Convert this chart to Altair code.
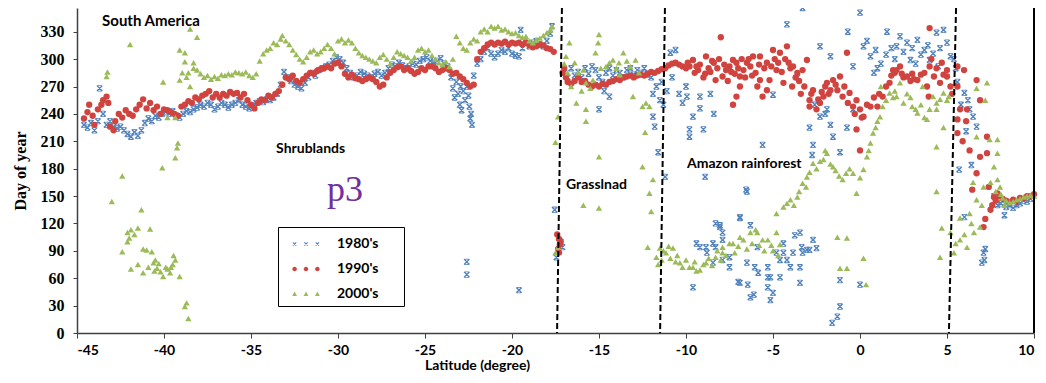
import altair as alt
import pandas as pd

# ---------------- data ----------------
decades = ["1980's", "1990's", "2000's"]
colors = ["#4F81BD", "#D0433E", "#9BBB59"]

pts_1980_band = [
    (-44.6, 228), (-44.4, 225), (-44.2, 230), (-44.0, 222), (-43.8, 232), (-43.7, 268), (-43.5, 240),
    (-43.3, 228), (-43.1, 232), (-42.9, 226), (-42.7, 224), (-42.5, 226), (-42.3, 222), (-42.1, 218),
    (-41.9, 215), (-41.7, 220), (-41.5, 216), (-41.3, 222), (-41.1, 230), (-40.9, 235), (-40.7, 232),
    (-40.5, 238), (-40.3, 236), (-40.1, 240), (-39.9, 242), (-39.7, 240), (-39.5, 243), (-39.3, 238),
    (-39.1, 236), (-38.9, 240), (-38.7, 243), (-38.5, 242), (-38.3, 245), (-38.1, 247), (-37.9, 250),
    (-37.7, 248), (-37.5, 252), (-37.3, 250), (-37.1, 245), (-36.9, 248), (-36.7, 252), (-36.5, 250),
    (-36.3, 247), (-36.1, 250), (-35.9, 252), (-35.7, 255), (-35.5, 250), (-35.3, 248), (-35.1, 246),
    (-34.9, 249), (-34.7, 252), (-34.5, 254), (-34.3, 253), (-34.1, 256), (-33.9, 255), (-33.7, 258),
    (-33.5, 262), (-33.3, 272), (-33.1, 286), (-32.9, 280), (-32.7, 276), (-32.5, 272), (-32.3, 270),
    (-32.1, 268), (-31.9, 274), (-31.7, 280), (-31.5, 285), (-31.3, 282), (-31.1, 288), (-30.9, 290),
    (-30.7, 292), (-30.5, 294), (-30.3, 298), (-30.1, 302), (-29.9, 300), (-29.7, 296), (-29.5, 290),
    (-29.3, 285), (-29.1, 280), (-28.9, 282), (-28.7, 286), (-28.5, 284), (-28.3, 282), (-28.1, 280),
    (-27.9, 284), (-27.7, 286), (-27.5, 282), (-27.3, 285), (-27.1, 290), (-26.9, 294), (-26.7, 292),
    (-26.5, 296), (-26.3, 293), (-26.1, 290), (-25.9, 292), (-25.7, 295), (-25.5, 294), (-25.3, 298),
    (-25.1, 300), (-24.9, 302), (-24.7, 298), (-24.5, 296), (-24.3, 298), (-24.1, 301), (-23.9, 295),
    (-23.7, 292), (-23.5, 280), (-23.4, 268), (-23.3, 258), (-23.2, 275), (-23.1, 262), (-23.0, 250),
    (-22.95, 270), (-22.9, 244), (-22.8, 265), (-22.7, 255), (-22.6, 270), (-22.5, 260), (-22.45, 248),
    (-22.4, 235), (-22.3, 228), (-22.35, 240), (-22.2, 282), (-22.0, 295), (-21.8, 300), (-21.6, 308),
    (-21.4, 312), (-21.2, 306), (-21.0, 302), (-20.8, 306), (-20.6, 310), (-20.4, 308), (-20.2, 312),
    (-20.0, 306), (-19.8, 304), (-19.6, 303), (-19.5, 332), (-19.4, 312), (-19.2, 318), (-19.0, 314),
    (-18.8, 318), (-18.6, 320), (-18.4, 316), (-18.2, 314), (-18.0, 320), (-17.8, 328), (-17.7, 336),
]
pts_1980_grass = [
    (-17.55, 135), (-17.1, 94), (-17.45, 83), (-17.2, 100), (-22.6, 78), (-22.6, 64), (-19.6, 47),
    (-17.0, 285), (-16.8, 280), (-16.6, 290), (-16.4, 282), (-16.2, 286), (-16.0, 280), (-15.8, 290),
    (-15.6, 284), (-15.4, 292), (-15.2, 288), (-15.0, 280), (-14.8, 275), (-14.6, 285), (-14.4, 290),
    (-14.2, 282), (-14.0, 288), (-13.8, 285), (-13.6, 280), (-13.4, 288), (-13.2, 290), (-13.0, 283),
    (-12.8, 288), (-12.6, 285), (-12.4, 290), (-12.2, 283), (-12.0, 280), (-15.0, 245), (-14.4, 259),
    (-14.7, 265),
]
pts_1980_forest = [
    (-11.9, 262), (-11.7, 270), (-11.5, 255), (-11.9, 237), (-11.8, 226), (-11.6, 198), (-11.2, 171),
    (-11.3, 250), (-11.1, 265), (-10.9, 307), (-10.6, 310), (-10.4, 262), (-10.2, 252), (-9.95, 259),
    (-9.8, 223), (-9.8, 215), (-9.6, 237), (-9.2, 259), (-9.2, 246), (-9.0, 223), (-8.9, 171),
    (-8.6, 262), (-8.4, 240), (-11.4, 275), (-10.8, 280), (-10.0, 270), (-6.9, 127), (-6.5, 155),
    (-6.55, 157), (-5.6, 206), (-5.0, 261), (-4.2, 338), (-3.3, 356), (-2.3, 314), (-1.7, 303),
    (-0.7, 330), (0.0, 351), (-0.4, 292), (-1.9, 245), (-2.3, 237), (-1.7, 228), (-2.9, 225),
    (-1.55, 215), (-2.7, 206), (-1.15, 198), (-2.75, 195), (-0.75, 225), (-0.4, 245), (-3.6, 280),
    (-2.6, 250), (-2.0, 240),
    (0.2, 314), (0.6, 303), (0.4, 320), (0.9, 310), (1.2, 295), (1.55, 330), (1.5, 305), (1.8, 312),
    (2.1, 314), (2.3, 325), (2.5, 308), (2.7, 318), (2.9, 299), (3.0, 312), (3.3, 321), (3.5, 305),
    (3.7, 310), (3.9, 315), (4.0, 299), (4.2, 306), (4.4, 329), (4.6, 312), (4.8, 332), (5.0, 318),
    (5.2, 303), (4.5, 292), (3.2, 295), (1.0, 290), (0.8, 285), (2.0, 300),
]
pts_1980_low = [
    (-9.6, 50), (-9.4, 98), (-8.85, 94), (-8.3, 94), (-7.9, 110), (-8.05, 116), (-7.5, 72), (-6.9, 55),
    (-6.3, 39), (-5.3, 61), (-5.0, 44), (-4.6, 80), (-4.0, 72), (-3.45, 55), (-3.3, 88), (-2.7, 102),
    (-2.9, 91), (-3.45, 110), (-4.4, 88), (-1.15, 58), (-1.15, 29), (-1.3, 18), (-1.6, 11), (0.0, 53),
    (-8.3, 120), (-9.2, 94), (-8.8, 88), (-8.45, 77), (-7.9, 80), (-7.0, 56), (-6.45, 53), (-6.1, 42),
    (-5.85, 66), (-5.3, 72), (-5.15, 61), (-4.6, 61), (-4.2, 80), (-3.85, 88), (-3.45, 72), (-3.35, 94),
    (-3.05, 91), (-2.5, 93), (-5.3, 50), (-5.15, 36), (-6.9, 126), (-6.3, 118), (-5.9, 94), (-4.8, 88),
    (-4.4, 98), (-3.75, 107), (-8.05, 118), (-7.9, 102), (-8.45, 98), (-7.5, 83), (-6.5, 77), (-6.05, 72),
]
pts_1980_north = [
    (5.5, 290), (5.6, 275), (6.0, 263), (6.3, 245), (6.5, 237), (6.7, 226), (6.1, 221), (5.7, 179),
    (6.4, 184), (6.0, 127), (7.1, 88), (7.0, 77), (7.15, 80), (7.2, 92), (5.8, 250), (6.2, 255),
    (5.4, 300), (8.3, 129), (7.9, 140), (8.1, 142), (8.4, 138), (8.6, 140), (8.8, 137), (9.0, 140),
    (9.2, 142), (9.4, 145), (9.6, 144), (9.8, 147), (7.7, 150),
]

pts_1990_band = [
    (-44.6, 235), (-44.4, 242), (-44.3, 250), (-44.1, 238), (-44.0, 228), (-43.8, 245), (-43.6, 250),
    (-43.5, 255), (-43.3, 259), (-43.2, 252), (-43.1, 226), (-42.9, 222), (-42.8, 232), (-42.6, 240),
    (-42.4, 236), (-42.2, 244), (-42.0, 240), (-41.8, 238), (-41.6, 245), (-41.4, 250), (-41.2, 256),
    (-41.0, 246), (-40.8, 252), (-40.6, 244), (-40.4, 248), (-40.2, 240), (-40.0, 245), (-39.8, 244),
    (-39.6, 242), (-39.4, 240), (-39.2, 238), (-39.0, 248), (-38.8, 250), (-38.6, 254), (-38.4, 252),
    (-38.2, 258), (-38.0, 256), (-37.8, 260), (-37.6, 262), (-37.4, 265), (-37.2, 258), (-37.0, 262),
    (-36.8, 258), (-36.6, 262), (-36.4, 260), (-36.2, 264), (-36.0, 262), (-35.8, 263), (-35.6, 258),
    (-35.4, 262), (-35.2, 255), (-35.0, 250), (-34.8, 246), (-34.6, 252), (-34.4, 256), (-34.2, 255),
    (-34.0, 260), (-33.8, 258), (-33.6, 262), (-33.4, 265), (-33.2, 272), (-33.0, 280), (-32.8, 278),
    (-32.6, 282), (-32.4, 276), (-32.2, 274), (-32.0, 278), (-31.8, 282), (-31.6, 285), (-31.4, 284),
    (-31.2, 287), (-31.0, 289), (-30.8, 290), (-30.6, 292), (-30.4, 290), (-30.2, 295), (-30.0, 296),
    (-29.8, 292), (-29.6, 284), (-29.4, 280), (-29.2, 283), (-29.0, 279), (-28.8, 278), (-28.6, 276),
    (-28.4, 278), (-28.2, 280), (-28.0, 278), (-27.8, 275), (-27.6, 270), (-27.4, 272), (-27.2, 280),
    (-27.0, 285), (-26.8, 288), (-26.6, 291), (-26.4, 292), (-26.2, 288), (-26.0, 290), (-25.8, 287),
    (-25.6, 284), (-25.4, 286), (-25.2, 290), (-25.0, 288), (-24.8, 292), (-24.6, 292), (-24.4, 290),
    (-24.2, 286), (-24.0, 288), (-23.8, 290), (-23.6, 288), (-23.4, 284), (-23.2, 285), (-23.0, 281),
    (-22.8, 278), (-22.6, 274), (-22.4, 270), (-22.2, 272), (-22.0, 300), (-21.8, 308), (-21.6, 312),
    (-21.4, 316), (-21.2, 318), (-21.0, 316), (-20.8, 318), (-20.6, 317), (-20.4, 319), (-20.2, 316),
    (-20.0, 318), (-19.8, 317), (-19.6, 318), (-19.4, 316), (-19.2, 318), (-19.0, 315), (-18.8, 313),
    (-18.6, 314), (-18.4, 316), (-18.2, 315), (-18.0, 312), (-17.8, 311), (-17.6, 308),
]
pts_1990_grass = [
    (-17.4, 108), (-17.3, 103), (-17.25, 97), (-17.35, 92), (-17.3, 88), (-17.2, 100),
    (-17.1, 285), (-17.0, 290), (-16.9, 280), (-16.8, 275), (-16.6, 273), (-16.4, 276), (-16.2, 280),
    (-16.0, 275), (-15.8, 276), (-15.6, 272), (-15.4, 270), (-15.2, 272), (-15.0, 270), (-14.8, 273),
    (-14.6, 272), (-14.4, 275), (-14.2, 276), (-14.0, 278), (-13.8, 277), (-13.6, 280), (-13.4, 281),
    (-13.2, 282), (-13.0, 280), (-12.8, 282), (-12.6, 283), (-12.4, 282), (-12.2, 284), (-12.0, 286),
    (-11.8, 285), (-11.6, 287), (-11.4, 289), (-11.2, 290), (-11.0, 293), (-10.8, 295), (-10.6, 296),
    (-10.4, 294), (-10.2, 292),
]
pts_1990_forest = [
    (-10.0, 290), (-9.8, 292), (-9.6, 299), (-9.5, 285), (-9.3, 288), (-9.2, 294), (-9.0, 280),
    (-8.85, 303), (-8.7, 290), (-8.6, 286), (-8.4, 296), (-8.3, 277), (-8.1, 300), (-8.0, 324),
    (-7.9, 281), (-7.7, 288), (-7.5, 292), (-7.3, 299), (-7.2, 284), (-7.1, 296), (-7.0, 290),
    (-6.9, 281), (-6.8, 300), (-6.7, 288), (-6.9, 270), (-7.1, 259), (-7.3, 250), (-6.5, 296),
    (-6.3, 292), (-6.15, 303), (-6.0, 285), (-5.9, 270), (-5.75, 277), (-5.75, 303), (-5.6, 259),
    (-5.5, 290), (-5.35, 296), (-5.35, 266), (-5.2, 277), (-5.0, 310), (-4.9, 300), (-4.8, 288),
    (-4.6, 307), (-4.4, 274), (-4.3, 300), (-4.2, 314), (-4.0, 290), (-3.85, 292), (-3.7, 280),
    (-3.6, 285), (-3.5, 276), (-3.3, 288), (-3.2, 270), (-3.05, 299), (-2.9, 255), (-2.9, 248),
    (-2.8, 262), (-2.7, 266), (-2.5, 245), (-2.4, 256), (-2.3, 252), (-2.2, 264), (-2.1, 259),
    (-2.0, 270), (-1.9, 274), (-1.8, 262), (-1.7, 266), (-1.55, 277), (-1.4, 272), (-1.3, 266),
    (-1.15, 281), (-1.0, 259), (-0.9, 270), (-0.75, 307), (-0.7, 252), (-0.6, 263), (-0.4, 248),
    (-0.3, 240), (-0.2, 255), (-0.2, 223), (0.0, 245), (0.0, 200), (0.1, 236), (0.2, 237), (0.4, 250),
    (0.6, 248), (0.8, 258), (1.0, 248), (1.1, 262), (1.3, 259), (1.5, 270), (1.7, 274), (1.8, 282),
    (1.9, 288), (2.0, 285), (2.1, 288), (2.3, 292), (2.4, 284), (2.5, 280), (2.7, 281), (2.9, 276),
    (3.0, 284), (3.1, 278), (3.3, 277), (3.5, 283), (3.7, 285), (3.85, 270), (3.95, 259), (4.0, 292),
    (4.0, 334), (4.1, 300), (4.25, 281), (4.4, 290), (4.6, 274), (4.7, 296), (4.8, 283), (5.0, 281),
    (5.0, 288), (5.2, 270), (5.3, 262),
    (-9.9, 296), (-9.4, 292), (-8.9, 284), (-8.5, 298), (-8.2, 290), (-7.8, 294), (-7.6, 276),
    (-7.4, 286), (-6.6, 280), (-6.4, 300), (-6.2, 282), (-5.8, 294), (-5.1, 292), (-4.7, 296),
    (-4.5, 286), (-4.1, 296), (-3.9, 270), (-3.4, 262),
]
pts_1990_north = [
    (5.6, 292), (5.6, 270), (5.75, 245), (5.6, 234), (5.98, 288), (6.15, 245), (6.3, 200), (5.6, 219),
    (6.7, 277), (6.9, 255), (6.7, 175), (7.3, 197), (6.45, 157), (7.1, 116), (7.5, 135), (7.7, 149),
    (7.9, 153), (7.4, 160), (7.6, 140), (7.2, 125), (7.8, 145), (8.0, 150), (8.2, 147), (8.4, 145),
    (8.6, 143), (8.8, 146), (9.0, 144), (9.2, 148), (9.4, 147), (9.6, 150), (9.8, 150), (10.0, 152),
    (6.1, 232), (5.9, 210), (6.9, 193), (7.3, 215),
]

pts_2000_south = [
    (-43.3, 281), (-43.25, 286), (-41.95, 316), (-43.0, 144), (-42.4, 172), (-41.3, 135), (-42.1, 110),
    (-41.9, 113), (-41.5, 115), (-40.8, 114), (-42.4, 89), (-42.1, 100), (-41.9, 70), (-41.5, 75),
    (-41.2, 92), (-41.0, 91), (-40.7, 89), (-41.2, 66), (-40.6, 77), (-40.4, 71), (-40.2, 67),
    (-40.05, 62), (-39.8, 70), (-39.65, 66), (-39.5, 75), (-39.35, 80), (-39.1, 62), (-38.7, 33),
    (-38.6, 16), (-38.8, 29), (-40.1, 181), (-40.05, 275), (-39.25, 203), (-39.2, 208), (-39.35, 192),
    (-39.8, 236), (-39.35, 236), (-39.1, 310), (-38.8, 307), (-38.8, 297), (-38.5, 333), (-38.1, 324),
    (-38.3, 296), (-38.95, 285), (-39.1, 277), (-38.5, 270), (-38.6, 285), (-38.7, 280), (-40.5, 80),
    (-40.3, 76), (-39.9, 72), (-40.9, 72), (-41.7, 108), (-42.0, 104), (-39.6, 72), (-39.45, 85),
    (-40.55, 68),
]
pts_2000_band = [
    (-38.3, 290), (-38.1, 288), (-37.9, 284), (-37.7, 280), (-37.5, 282), (-37.3, 278), (-37.1, 281),
    (-36.9, 279), (-36.7, 283), (-36.5, 282), (-36.3, 284), (-36.1, 283), (-35.9, 286), (-35.7, 285),
    (-35.5, 284), (-35.3, 286), (-35.1, 282), (-34.9, 280), (-34.7, 284), (-34.5, 298), (-34.3, 306),
    (-34.1, 310), (-33.9, 312), (-33.7, 318), (-33.5, 316), (-33.3, 322), (-33.2, 326), (-33.0, 320),
    (-32.8, 316), (-32.6, 310), (-32.4, 305), (-32.2, 300), (-32.0, 297), (-31.8, 302), (-31.6, 308),
    (-31.4, 310), (-31.2, 306), (-31.0, 308), (-30.8, 312), (-30.6, 316), (-30.4, 312), (-30.2, 306),
    (-30.0, 320), (-29.8, 322), (-29.6, 318), (-29.4, 321), (-29.2, 318), (-29.0, 312), (-28.8, 307),
    (-28.6, 304), (-28.4, 302), (-28.2, 300), (-28.0, 298), (-27.8, 296), (-27.6, 302), (-27.4, 305),
    (-27.2, 300), (-27.0, 295), (-26.8, 302), (-26.6, 308), (-26.4, 306), (-26.2, 304), (-26.0, 302),
    (-25.8, 298), (-25.6, 302), (-25.4, 310), (-25.2, 312), (-25.0, 308), (-24.8, 310), (-24.6, 304),
    (-24.4, 300), (-24.2, 296), (-24.0, 294), (-23.8, 297), (-23.6, 292), (-23.4, 300), (-23.2, 325),
    (-23.0, 318), (-22.8, 312), (-22.6, 310), (-22.4, 318), (-22.2, 322), (-22.0, 320), (-21.8, 330),
    (-21.6, 333), (-21.4, 330), (-21.2, 336), (-21.0, 334), (-20.8, 336), (-20.6, 332), (-20.4, 333),
    (-20.2, 330), (-20.0, 328), (-19.8, 329), (-19.6, 326), (-19.4, 324), (-19.2, 325), (-19.0, 320),
    (-18.8, 318), (-18.6, 321), (-18.4, 323), (-18.2, 326), (-18.0, 329), (-17.8, 332), (-17.7, 336),
]
pts_2000_grass = [
    (-17.35, 237), (-17.5, 209), (-17.5, 88), (-17.35, 94), (-16.9, 303), (-16.7, 318), (-16.4, 296),
    (-16.2, 285), (-15.9, 288), (-15.75, 274), (-16.3, 252), (-15.75, 245), (-15.75, 232), (-15.35, 277),
    (-15.2, 307), (-15.05, 318), (-15.0, 327), (-15.0, 193), (-15.9, 140), (-15.0, 137), (-14.6, 292),
    (-14.2, 299), (-13.85, 296), (-13.6, 307), (-14.9, 290), (-14.4, 296), (-14.0, 290), (-13.4, 298),
    (-13.2, 292), (-12.9, 299), (-16.6, 270), (-16.0, 265), (-15.5, 268), (-17.0, 295), (-16.8, 285),
    (-13.05, 259), (-12.5, 248), (-12.1, 248), (-12.35, 220), (-12.5, 182), (-11.9, 168), (-12.1, 153),
    (-12.0, 133), (-12.2, 94), (-12.3, 252), (-12.7, 285), (-13.8, 283),
]
pts_2000_low = [
    (-11.7, 83), (-11.5, 93), (-11.6, 75), (-11.4, 80), (-11.3, 90), (-11.15, 88), (-11.0, 95),
    (-10.9, 82), (-10.75, 93), (-10.6, 78), (-10.5, 85), (-10.35, 77), (-10.2, 72), (-10.0, 80),
    (-9.8, 72), (-9.6, 72), (-9.5, 78), (-9.4, 68), (-9.2, 69), (-9.0, 75), (-8.85, 77), (-8.7, 82),
    (-8.5, 74), (-8.3, 83), (-8.2, 90), (-8.0, 80), (-7.9, 88), (-7.9, 94), (-7.7, 85), (-7.5, 98),
    (-7.3, 98), (-7.2, 88), (-7.0, 95), (-6.9, 105), (-6.7, 102), (-6.5, 92), (-6.3, 110), (-6.2, 98),
    (-6.0, 113), (-5.9, 110), (-5.8, 96), (-5.6, 102), (-5.5, 90), (-5.3, 102), (-5.1, 96), (-5.0, 90),
    (-4.8, 110), (-4.6, 97), (-4.7, 85),
]
pts_2000_rise = [
    (-4.8, 131), (-4.4, 138), (-4.2, 142), (-4.0, 146), (-3.8, 140), (-3.6, 149), (-3.5, 155),
    (-3.3, 164), (-3.1, 160), (-3.05, 171), (-2.9, 176), (-2.7, 186), (-2.5, 180), (-2.3, 188),
    (-2.1, 190), (-2.0, 200), (-1.9, 197), (-1.7, 185), (-1.55, 182), (-1.4, 178), (-1.2, 172),
    (-1.0, 168), (-0.8, 175), (-0.6, 180), (-0.4, 175), (-0.2, 153), (0.0, 170), (0.2, 179), (0.4, 193),
    (0.5, 200), (0.6, 208), (0.75, 219), (0.9, 225), (1.0, 232), (1.15, 237), (1.3, 248), (1.5, 255),
    (1.7, 263), (1.9, 258), (2.1, 259), (2.3, 274), (2.5, 252), (2.7, 262), (2.9, 258), (3.0, 248),
    (3.2, 245), (3.3, 241), (3.5, 250), (3.7, 236), (3.85, 234), (4.0, 245), (4.2, 259), (4.4, 252),
    (4.6, 256), (4.8, 263), (5.0, 255), (5.1, 259), (-1.3, 105), (-0.75, 104), (-1.15, 71),
    (-0.75, 71), (0.2, 82), (0.35, 53), (4.4, 204), (4.4, 155), (4.7, 115), (4.6, 83), (4.8, 225),
    (4.4, 245), (1.2, 270), (2.0, 265), (3.6, 270),
]
pts_2000_north = [
    (5.4, 88), (5.75, 102), (6.15, 94), (6.55, 110), (6.9, 116), (5.75, 126), (6.3, 131), (6.7, 146),
    (7.1, 160), (7.3, 274), (7.2, 255), (6.7, 215), (7.45, 212), (7.9, 212), (7.9, 197), (7.7, 182),
    (7.9, 168), (8.05, 160), (6.7, 268), (5.5, 98), (6.0, 108), (6.4, 120), (7.0, 140), (7.5, 165),
    (7.8, 155), (8.2, 148), (8.4, 145), (8.6, 143), (8.8, 144), (9.0, 146), (9.2, 147), (9.4, 149),
    (9.6, 150), (9.8, 151), (10.0, 150), (8.1, 152), (8.3, 140), (5.2, 110), (6.5, 165),
]

# biome boundaries (dashed, slightly slanted in the original) and the plot's right edge
boundary_top = [-17.13, -11.21, 5.52]
boundary_bottom = [-17.41, -11.49, 5.11]

annotations = ["Shrublands", "Grasslnad", "Amazon rainforest"]
annotation_lat = [-33.56, -16.9, -9.94]
annotation_doy = [202, 162, 185]

x_ticks = [-45, -40, -35, -30, -25, -20, -15, -10, -5, 0, 5, 10]
y_ticks = [0, 30, 60, 90, 120, 150, 180, 210, 240, 270, 300, 330]
X_DOMAIN = [-45, 10]
Y_DOMAIN = [0, 356]

# ---------------- build tables ----------------
def frame(pts, label):
    return pd.DataFrame({"lat": [p[0] for p in pts], "doy": [p[1] for p in pts], "decade": label})

df80 = pd.concat([frame(p, decades[0]) for p in
                  [pts_1980_band, pts_1980_grass, pts_1980_forest, pts_1980_low, pts_1980_north]])
df90 = pd.concat([frame(p, decades[1]) for p in
                  [pts_1990_band, pts_1990_grass, pts_1990_forest, pts_1990_north]])
df00 = pd.concat([frame(p, decades[2]) for p in
                  [pts_2000_south, pts_2000_band, pts_2000_grass, pts_2000_low, pts_2000_rise, pts_2000_north]])

bounds = pd.DataFrame({"lat": boundary_top, "lat_bot": boundary_bottom,
                       "doy": [Y_DOMAIN[1]] * 3, "doy_bot": [0] * 3})
edge = pd.DataFrame({"lat": [X_DOMAIN[1]], "doy": [Y_DOMAIN[1]], "doy_bot": [0]})
ann = pd.DataFrame({"lat": annotation_lat, "doy": annotation_doy, "text": annotations})
p3 = pd.DataFrame({"lat": [-30.63], "doy": [145], "text": ["p3"]})
region = pd.DataFrame({"lat": [-43.56], "doy": [342], "text": ["South America"]})

# ---------------- marker shapes ----------------
X_PATH = ("M-1,-0.7L-0.7,-1L1,0.7L0.7,1Z M-1,0.7L0.7,-1L1,-0.7L-0.7,1Z "
          "M-0.6,-1L0.6,-1L0.6,-0.75L-0.6,-0.75Z M-0.6,0.75L0.6,0.75L0.6,1L-0.6,1Z")


def triple(kind):
    parts = []
    for cx in (-0.95, 0.0, 0.95):
        if kind == "x":
            h, t = 0.17, 0.06
            parts.append(f"M{cx-h},{-h+t}L{cx-h+t},{-h}L{cx+h},{h-t}L{cx+h-t},{h}Z")
            parts.append(f"M{cx-h},{h-t}L{cx+h-t},{-h}L{cx+h},{-h+t}L{cx-h+t},{h}Z")
        elif kind == "o":
            a = 0.19
            parts.append(f"M{cx-a},0A{a},{a} 0 1,0 {cx+a},0A{a},{a} 0 1,0 {cx-a},0Z")
        else:
            a = 0.2
            parts.append(f"M{cx},{-a}L{cx+a},{a*0.8}L{cx-a},{a*0.8}Z")
    return "".join(parts)


sym_expr = (f"indexof(datum.value, '1980') >= 0 ? '{triple('x')}' : "
            f"indexof(datum.value, '1990') >= 0 ? '{triple('o')}' : '{triple('t')}'")

legend = alt.Legend(
    orient="none", legendX=201, legendY=219, title=None,
    strokeColor="black", fillColor="white", padding=5,
    symbolSize=576, symbolType={"expr": sym_expr}, symbolOffset=11,
    symbolStrokeWidth=0,
    labelFont="Lato", labelFontWeight="bold", labelFontSize=14, labelColor="black",
    labelOffset=19, rowPadding=6,
    labelExpr="datum.label + '\u2800\u2800'",
)

x_axis = alt.Axis(values=x_ticks, labelExpr="toString(datum.value)", grid=False,
                  labelOverlap=False,
                  domainColor="#404040", domainWidth=1.5, tickColor="#404040", tickSize=5,
                  labelFont="Lato", labelFontWeight="bold", labelFontSize=14,
                  labelColor="black", labelPadding=5,
                  titleFont="Lato", titleFontWeight="bold", titleFontSize=14,
                  titleColor="black", titleX=400, titlePadding=1)
y_axis = alt.Axis(values=y_ticks, grid=False, labelOverlap=False,
                  domainColor="#404040", domainWidth=1.5, tickColor="#404040", tickSize=4,
                  labelFont="Liberation Serif", labelFontWeight="bold", labelFontSize=16,
                  labelColor="black", labelPadding=9,
                  titleFont="Liberation Serif", titleFontWeight="bold", titleFontSize=16,
                  titleColor="black", titlePadding=12)
x_scale = alt.Scale(domain=X_DOMAIN, nice=False, zero=False)
y_scale = alt.Scale(domain=Y_DOMAIN, nice=False, zero=False)

x_enc = alt.X("lat:Q", title="Latitude (degree)", scale=x_scale, axis=x_axis)
y_enc = alt.Y("doy:Q", title="Day of year", scale=y_scale, axis=y_axis)
color_enc = alt.Color("decade:N", scale=alt.Scale(domain=decades, range=colors), legend=legend)

l80 = alt.Chart(df80).mark_point(shape=X_PATH, filled=True, size=40, opacity=1, strokeWidth=0).encode(
    x=x_enc, y=y_enc, color=color_enc)
l90 = alt.Chart(df90).mark_point(shape="circle", filled=True, size=40, opacity=1, strokeWidth=0).encode(
    x=x_enc, y=y_enc, color=color_enc)
l00 = alt.Chart(df00).mark_point(shape="triangle-up", filled=True, size=40, opacity=1, strokeWidth=0).encode(
    x=x_enc, y=y_enc, color=color_enc)

dashes = alt.Chart(bounds).mark_rule(color="black", strokeWidth=2, strokeDash=[6, 3]).encode(
    x=x_enc, x2="lat_bot:Q", y=y_enc, y2="doy_bot:Q")
right_edge = alt.Chart(edge).mark_rule(color="black", strokeWidth=2).encode(
    x=x_enc, y=y_enc, y2="doy_bot:Q")

ann_text = alt.Chart(ann).mark_text(align="left", baseline="middle", font="Lato", fontWeight="bold",
                                    fontSize=14, color="black").encode(x=x_enc, y=y_enc, text="text:N")
p3_text = alt.Chart(p3).mark_text(align="left", baseline="alphabetic", font="Liberation Serif",
                                  fontSize=36, color="#7030A0").encode(x=x_enc, y=y_enc, text="text:N")
region_text = alt.Chart(region).mark_text(align="left", baseline="middle", font="Lato", fontWeight="bold",
                                          fontSize=15, color="black").encode(x=x_enc, y=y_enc, text="text:N")

chart = alt.layer(l80, l90, l00, dashes, right_edge, ann_text, p3_text, region_text).properties(
    width=957, height=325,
    padding={"left": 69, "top": 0, "right": 4, "bottom": 42},
    autosize=alt.AutoSizeParams(type="none"),
).configure_view(stroke=None).configure_axis(labelOverlap=False)

chart.save("out.html", embed_options={"renderer": "svg", "actions": False})
